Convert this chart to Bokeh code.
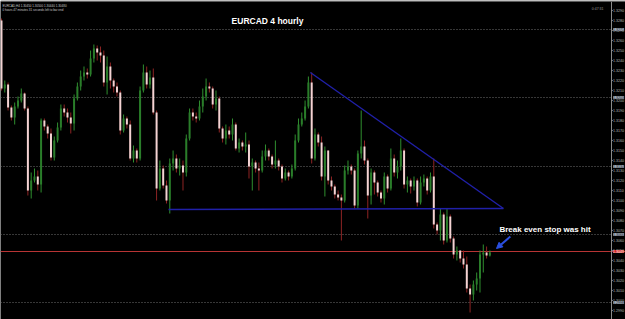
from bokeh.plotting import figure
from bokeh.models import Span, Label, Arrow, NormalHead, ColumnDataSource, Range1d
from bokeh.core.properties import value
from bokeh.embed import file_html
from bokeh.resources import INLINE

# ---- data (EURCAD H4) ----
first_open = 1.3280
closes = [1.3212, 1.3216, 1.3193, 1.3183, 1.3194, 1.3200, 1.3207, 1.3192, 1.3110, 1.3120,
          1.3124, 1.3116, 1.3180, 1.3174, 1.3167, 1.3143, 1.3160, 1.3173, 1.3192, 1.3188,
          1.3183, 1.3177, 1.3202, 1.3214, 1.3224, 1.3228, 1.3226, 1.3242, 1.3252, 1.3248,
          1.3245, 1.3218, 1.3234, 1.3220, 1.3214, 1.3208, 1.3170, 1.3182, 1.3176, 1.3142,
          1.3150, 1.3142, 1.3210, 1.3228, 1.3216, 1.3223, 1.3188, 1.3112, 1.3132, 1.3115,
          1.3100, 1.3137, 1.3142, 1.3132, 1.3135, 1.3128, 1.3162, 1.3188, 1.3184, 1.3182,
          1.3194, 1.3204, 1.3214, 1.3212, 1.3196, 1.3202, 1.3172, 1.3162, 1.3170, 1.3166,
          1.3176, 1.3152, 1.3158, 1.3154, 1.3156, 1.3134, 1.3138, 1.3132, 1.3130, 1.3144,
          1.3150, 1.3144, 1.3136, 1.3140, 1.3134, 1.3122, 1.3128, 1.3124, 1.3132, 1.3160,
          1.3176, 1.3182, 1.3194, 1.3218, 1.3142, 1.3166, 1.3158, 1.3124, 1.3150, 1.3120,
          1.3114, 1.3106, 1.3103, 1.3100, 1.3130, 1.3134, 1.3130, 1.3095, 1.3147, 1.3154,
          1.3140, 1.3105, 1.3128, 1.3118, 1.3108, 1.3102, 1.3124, 1.3112, 1.3142, 1.3128,
          1.3134, 1.3150, 1.3116, 1.3120, 1.3114, 1.3120, 1.3098, 1.3118, 1.3122, 1.3110,
          1.3124, 1.3076, 1.3070, 1.3086, 1.3060, 1.3084, 1.3062, 1.3046, 1.3050, 1.3042,
          1.3036, 1.3012, 1.3006, 1.3016, 1.3022, 1.3046, 1.3048, 1.3045, 1.3048]
highs = [1.3282, 1.3220, 1.3218, 1.3195, 1.3198, 1.3204, 1.3212, 1.3208, 1.3194, 1.3128,
         1.3132, 1.3130, 1.3182, 1.3182, 1.3176, 1.3172, 1.3164, 1.3178, 1.3196, 1.3196,
         1.3192, 1.3188, 1.3206, 1.3218, 1.3230, 1.3234, 1.3232, 1.3250, 1.3256, 1.3255,
         1.3254, 1.3250, 1.3244, 1.3238, 1.3222, 1.3218, 1.3210, 1.3186, 1.3184, 1.3180,
         1.3155, 1.3152, 1.3214, 1.3236, 1.3234, 1.3230, 1.3232, 1.3190, 1.3140, 1.3135,
         1.3120, 1.3142, 1.3150, 1.3146, 1.3142, 1.3140, 1.3166, 1.3192, 1.3192, 1.3188,
         1.3200, 1.3212, 1.3222, 1.3218, 1.3214, 1.3210, 1.3204, 1.3174, 1.3176, 1.3174,
         1.3182, 1.3178, 1.3162, 1.3160, 1.3168, 1.3160, 1.3142, 1.3140, 1.3138, 1.3150,
         1.3156, 1.3152, 1.3146, 1.3160, 1.3142, 1.3136, 1.3132, 1.3130, 1.3136, 1.3166,
         1.3182, 1.3188, 1.3200, 1.3224, 1.3228, 1.3172, 1.3168, 1.3164, 1.3154, 1.3150,
         1.3124, 1.3116, 1.3110, 1.3106, 1.3135, 1.3140, 1.3136, 1.3132, 1.3150, 1.3190,
         1.3160, 1.3142, 1.3132, 1.3130, 1.3120, 1.3110, 1.3128, 1.3126, 1.3152, 1.3146,
         1.3140, 1.3162, 1.3152, 1.3124, 1.3122, 1.3124, 1.3122, 1.3124, 1.3126, 1.3124,
         1.3128, 1.3142, 1.3078, 1.3092, 1.3088, 1.3092, 1.3086, 1.3064, 1.3054, 1.3050,
         1.3050, 1.3044, 1.3016, 1.3020, 1.3028, 1.3050, 1.3056, 1.3054, 1.3050]
lows = [1.3210, 1.3208, 1.3190, 1.3180, 1.3176, 1.3192, 1.3198, 1.3190, 1.3105, 1.3102,
        1.3118, 1.3110, 1.3108, 1.3170, 1.3162, 1.3140, 1.3140, 1.3158, 1.3170, 1.3184,
        1.3178, 1.3167, 1.3170, 1.3200, 1.3210, 1.3220, 1.3222, 1.3224, 1.3238, 1.3240,
        1.3238, 1.3214, 1.3206, 1.3212, 1.3208, 1.3204, 1.3166, 1.3168, 1.3172, 1.3140,
        1.3138, 1.3138, 1.3140, 1.3208, 1.3212, 1.3212, 1.3186, 1.3100, 1.3110, 1.3112,
        1.3097, 1.3087, 1.3130, 1.3128, 1.3125, 1.3110, 1.3124, 1.3160, 1.3180, 1.3178,
        1.3180, 1.3188, 1.3200, 1.3208, 1.3192, 1.3190, 1.3168, 1.3158, 1.3156, 1.3162,
        1.3160, 1.3150, 1.3148, 1.3150, 1.3148, 1.3122, 1.3110, 1.3128, 1.3110, 1.3128,
        1.3140, 1.3140, 1.3132, 1.3132, 1.3130, 1.3118, 1.3120, 1.3120, 1.3122, 1.3130,
        1.3158, 1.3174, 1.3180, 1.3192, 1.3137, 1.3140, 1.3154, 1.3120, 1.3104, 1.3116,
        1.3110, 1.3102, 1.3100, 1.3060, 1.3098, 1.3126, 1.3126, 1.3092, 1.3092, 1.3142,
        1.3136, 1.3082, 1.3096, 1.3106, 1.3104, 1.3098, 1.3096, 1.3108, 1.3110, 1.3124,
        1.3122, 1.3130, 1.3112, 1.3108, 1.3107, 1.3110, 1.3094, 1.3096, 1.3114, 1.3106,
        1.3108, 1.3072, 1.3066, 1.3060, 1.3056, 1.3058, 1.3058, 1.3042, 1.3040, 1.3038,
        1.3032, 1.3008, 1.2988, 1.3000, 1.3010, 1.3008, 1.3028, 1.3042, 1.3044]

price_ticks = [1.2990, 1.3000, 1.3010, 1.3020, 1.3030, 1.3040, 1.3050, 1.3060, 1.3070, 1.3080,
               1.3090, 1.3100, 1.3110, 1.3120, 1.3130, 1.3140, 1.3150, 1.3160, 1.3170, 1.3180,
               1.3190, 1.3200, 1.3210, 1.3220, 1.3230, 1.3240, 1.3250, 1.3260, 1.3270, 1.3280,
               1.3290]
price_tick_labels = ["%.4f" % t for t in price_ticks]
grid_levels = [1.3271, 1.3203, 1.3134, 1.3066, 1.2998]
stop_level = 1.3049

# triangle trend lines: (bar index, price)
tri_top_x = [93.6, 152.1]
tri_top_y = [1.3228, 1.3092]
tri_base_x = [50.6, 152.1]
tri_base_y = [1.3091, 1.3092]
arrow_from = (154.2, 1.3064)
arrow_to = (150.0, 1.3052)
note_pos = (150.9, 1.3071)

# ---- build ----
opens = [first_open] + closes[:-1]
n = len(closes)
idx = list(range(n))
bull = [c >= o for o, c in zip(opens, closes)]

def sub(mask):
    return ColumnDataSource(dict(
        x=[i for i, m in zip(idx, mask) if m],
        top=[max(o, c) for o, c, m in zip(opens, closes, mask) if m],
        bottom=[min(o, c) for o, c, m in zip(opens, closes, mask) if m],
        high=[h for h, m in zip(highs, mask) if m],
        low=[l for l, m in zip(lows, mask) if m],
    ))

src_up = sub(bull)
src_dn = sub([not b for b in bull])

X0 = -0.3
X1 = X0 + 625 / 3.3          # frame spans the full window width
AX = X0 + 611 / 3.3          # price-scale line position (pixel 611)
LBL = X0 + 612.6 / 3.3       # price label start

p = figure(width=625, height=319, output_backend="svg", toolbar_location=None,
           x_range=Range1d(X0, X1), y_range=Range1d(1.2981, 1.3299),
           x_axis_location=None, y_axis_location=None,
           min_border_left=0, min_border_bottom=0, min_border_top=1, min_border_right=0,
           background_fill_color="black", border_fill_color="black", outline_line_color=None)
p.grid.visible = False

# top border
p.add_layout(Span(location=1.3299, dimension="width", line_color="#7a7a7a", line_width=1))

for g in grid_levels:
    p.segment(x0=[X0], y0=[g], x1=[AX], y1=[g], line_color="#6e6e6e", line_width=1, line_dash="1 2")
p.segment(x0=[X0], y0=[stop_level], x1=[X1], y1=[stop_level], line_color="#b83434", line_width=1.2)

# price scale
p.add_layout(Span(location=AX, dimension="height", line_color="#8a8a8a", line_width=1))
p.segment(x0=[AX] * len(price_ticks), y0=price_ticks, x1=[AX + 0.4] * len(price_ticks), y1=price_ticks,
          line_color="#8a8a8a", line_width=1)
p.text(x=[LBL] * len(price_ticks), y=price_ticks, text=price_tick_labels, text_color="#b8b8b8",
       text_font=value("Liberation Sans"), text_font_size="3.6px", text_baseline="middle")

# candles
p.segment(x0="x", y0="high", x1="x", y1="low", source=src_up, line_color="#2f8f2f", line_width=1)
p.vbar(x="x", top="top", bottom="bottom", width=0.6, source=src_up, fill_color="#2a7d2a", line_color=None)
p.segment(x0="x", y0="high", x1="x", y1="low", source=src_dn, line_color="#8e2424", line_width=1)
p.vbar(x="x", top="top", bottom="bottom", width=0.6, source=src_dn, fill_color="#f3d3d3", line_color=None)

# triangle
p.line(tri_top_x, tri_top_y, line_color="#2020a8", line_width=1.4)
p.line(tri_base_x, tri_base_y, line_color="#2020a8", line_width=1.4)

# arrow + note
p.add_layout(Arrow(end=NormalHead(size=6, fill_color="#2a4fe0", line_color="#2a4fe0"),
                   x_start=arrow_from[0], y_start=arrow_from[1], x_end=arrow_to[0], y_end=arrow_to[1],
                   line_color="#2a4fe0", line_width=2))
p.add_layout(Label(x=note_pos[0], y=note_pos[1], text="Break even stop was hit", text_color="white",
                   text_font="Liberation Sans", text_font_style="bold", text_font_size="8px",
                   text_baseline="middle"))

# title and info texts
p.add_layout(Label(x=267, y=299, x_units="screen", y_units="screen", text="EURCAD 4 hourly",
                   text_color="white", text_font="Liberation Sans", text_font_style="bold",
                   text_font_size="8.5px", text_align="center", text_baseline="middle"))
p.add_layout(Label(x=2, y=314, x_units="screen", y_units="screen",
                   text="EURCAD,H4  1.30450 1.30500 1.30440 1.30480",
                   text_color="#c8c8c8", text_font="Liberation Sans", text_font_size="3px", text_baseline="middle"))
p.add_layout(Label(x=2, y=310, x_units="screen", y_units="screen",
                   text="0 hours 47 minutes 31 seconds left to bar end",
                   text_color="#c8c8c8", text_font="Liberation Sans", text_font_size="3px", text_baseline="middle"))
p.add_layout(Label(x=603, y=311, x_units="screen", y_units="screen", text="0:47:31",
                   text_color="#9a9a9a", text_font="Liberation Sans", text_font_size="3.5px",
                   text_align="right", text_baseline="middle"))

# highlighted price-scale labels
for g in grid_levels:
    p.add_layout(Label(x=LBL, y=g, text="%.4f" % g, text_color="#1a1a1a",
                       background_fill_color="#9aa6b4", text_font="Liberation Sans",
                       text_font_size="3.6px", text_baseline="middle"))
p.add_layout(Label(x=LBL, y=stop_level, text="%.4f" % stop_level, text_color="white",
                   background_fill_color="#d02828", text_font="Liberation Sans",
                   text_font_size="3.6px", text_baseline="middle"))

open("out.html", "w").write(file_html(p, INLINE))
